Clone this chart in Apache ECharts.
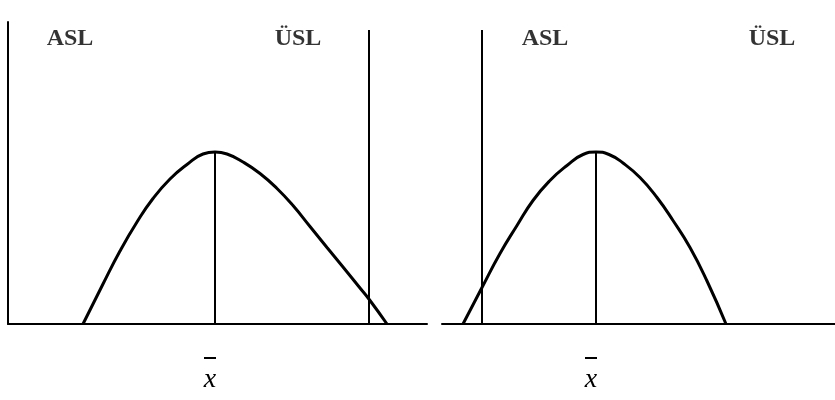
<!DOCTYPE html>
<html>
<head>
<meta charset="utf-8">
<script src="https://cdn.jsdelivr.net/npm/echarts@6/dist/echarts.min.js"></script>
<style>
  html, body { margin: 0; padding: 0; background: #fff; }
  #chart { width: 835px; height: 400px; }
</style>
</head>
<body>
<div id="chart"></div>
<script>
// Process distribution with tolerance limits, two cases side by side.
// Horizontal unit: measurement value; vertical unit: frequency.

// Left case: distribution shifted toward the upper limit
const leftCurveX = [8.3, 10.3, 12.0, 13.7, 15.3, 17.0, 18.7, 20.3, 21.5, 22.7, 24.3, 26.0, 27.7, 29.3, 31.0, 32.7, 34.3, 36.0, 37.0, 38.7];
const leftCurveY = [0, 4.0, 7.3, 10.2, 12.55, 14.5, 15.95, 17.0, 17.2, 17.0, 16.2, 15.05, 13.55, 11.85, 9.75, 7.65, 5.7, 3.6, 2.35, 0];
const leftMean = 21.5;
const leftUSL = 36.9;

// Right case: distribution shifted toward the lower limit
const rightCurveX = [46.3, 48.2, 50.0, 51.7, 53.3, 55.0, 56.7, 58.3, 59.6, 60.9, 62.3, 64.0, 65.7, 67.3, 69.0, 70.7, 72.6];
const rightCurveY = [0, 3.65, 7.05, 9.85, 12.35, 14.35, 15.85, 16.95, 17.2, 16.95, 16.1, 14.65, 12.65, 10.35, 7.65, 4.3, 0];
const rightMean = 59.6;
const rightASL = 48.2;

const peakHeight = 17.2;
const limitTop = 29.4;

// Limit names and where they are written
const labelNames = ['ASL', 'ÜSL', 'ASL', 'ÜSL'];
const labelX = [7.0, 29.8, 54.5, 77.2];
const labelY = [28.5, 28.5, 28.5, 28.5];
const labelGrid = [0, 0, 1, 1];
const meanSymbol = 'x';

const serif = 'Liberation Serif, Times New Roman, serif';
const ink = '#000';

function pairs(xs, ys) { return xs.map((x, i) => [x, ys[i]]); }

function meanLine(x) {
  return {
    silent: true,
    symbol: 'none',
    lineStyle: { color: ink, width: 2, type: 'solid' },
    label: {
      show: true,
      position: 'start',
      distance: 33,
      offset: [-5, 0],
      // overbar drawn as a thin filled block above the italic x
      formatter: '{bar| }\n{x|' + meanSymbol + '}',
      rich: {
        bar: { width: 12, height: 2, lineHeight: 2, fontSize: 2, backgroundColor: ink, align: 'center' },
        x: { fontFamily: serif, fontSize: 28, fontStyle: 'italic', lineHeight: 42, color: ink, align: 'center' }
      }
    },
    data: [[{ coord: [x, 0] }, { coord: [x, peakHeight] }]]
  };
}

function limitLine(x) {
  return {
    type: 'line',
    data: [],
    silent: true,
    markLine: {
      silent: true,
      symbol: 'none',
      lineStyle: { color: ink, width: 2, type: 'solid' },
      label: { show: false },
      data: [[{ coord: [x, 0] }, { coord: [x, limitTop] }]]
    }
  };
}

const option = {
  animation: false,
  backgroundColor: '#fff',
  grid: [
    { left: 8, top: 22, width: 419, height: 302 },
    { left: 442, top: 22, width: 393, height: 302 }
  ],
  xAxis: [
    { type: 'value', gridIndex: 0, min: 0.8, max: 42.7,
      axisLine: { show: true, onZero: false, lineStyle: { color: ink, width: 2 } },
      axisTick: { show: false }, axisLabel: { show: false }, splitLine: { show: false } },
    { type: 'value', gridIndex: 1, min: 44.2, max: 83.5,
      axisLine: { show: true, onZero: false, lineStyle: { color: ink, width: 2 } },
      axisTick: { show: false }, axisLabel: { show: false }, splitLine: { show: false } }
  ],
  yAxis: [
    { type: 'value', gridIndex: 0, min: 0, max: 30.2,
      axisLine: { show: true, onZero: false, lineStyle: { color: ink, width: 2 } },
      axisTick: { show: false }, axisLabel: { show: false }, splitLine: { show: false } },
    { type: 'value', gridIndex: 1, min: 0, max: 30.2,
      axisLine: { show: false }, axisTick: { show: false },
      axisLabel: { show: false }, splitLine: { show: false } }
  ],
  series: [
    {
      type: 'line', xAxisIndex: 0, yAxisIndex: 0,
      data: pairs(leftCurveX, leftCurveY),
      smooth: 0.5, showSymbol: false, silent: true,
      lineStyle: { color: ink, width: 3 },
      markLine: meanLine(leftMean)
    },
    Object.assign(limitLine(leftUSL), { xAxisIndex: 0, yAxisIndex: 0 }),
    {
      type: 'line', xAxisIndex: 1, yAxisIndex: 1,
      data: pairs(rightCurveX, rightCurveY),
      smooth: 0.5, showSymbol: false, silent: true,
      lineStyle: { color: ink, width: 3 },
      markLine: meanLine(rightMean)
    },
    Object.assign(limitLine(rightASL), { xAxisIndex: 1, yAxisIndex: 1 }),
    ...[0, 1].map(g => ({
      type: 'scatter', xAxisIndex: g, yAxisIndex: g, silent: true,
      symbolSize: 1, itemStyle: { color: 'rgba(0,0,0,0)' },
      label: {
        show: true, position: 'inside', formatter: '{b}',
        fontFamily: serif, fontSize: 24, fontWeight: 'bold', color: ink
      },
      data: labelNames.map((n, i) => ({ name: n, value: [labelX[i], labelY[i]] }))
        .filter((d, i) => labelGrid[i] === g)
    }))
  ]
};

echarts.init(document.getElementById('chart'), null, { renderer: 'canvas' }).setOption(option);
</script>
</body>
</html>
